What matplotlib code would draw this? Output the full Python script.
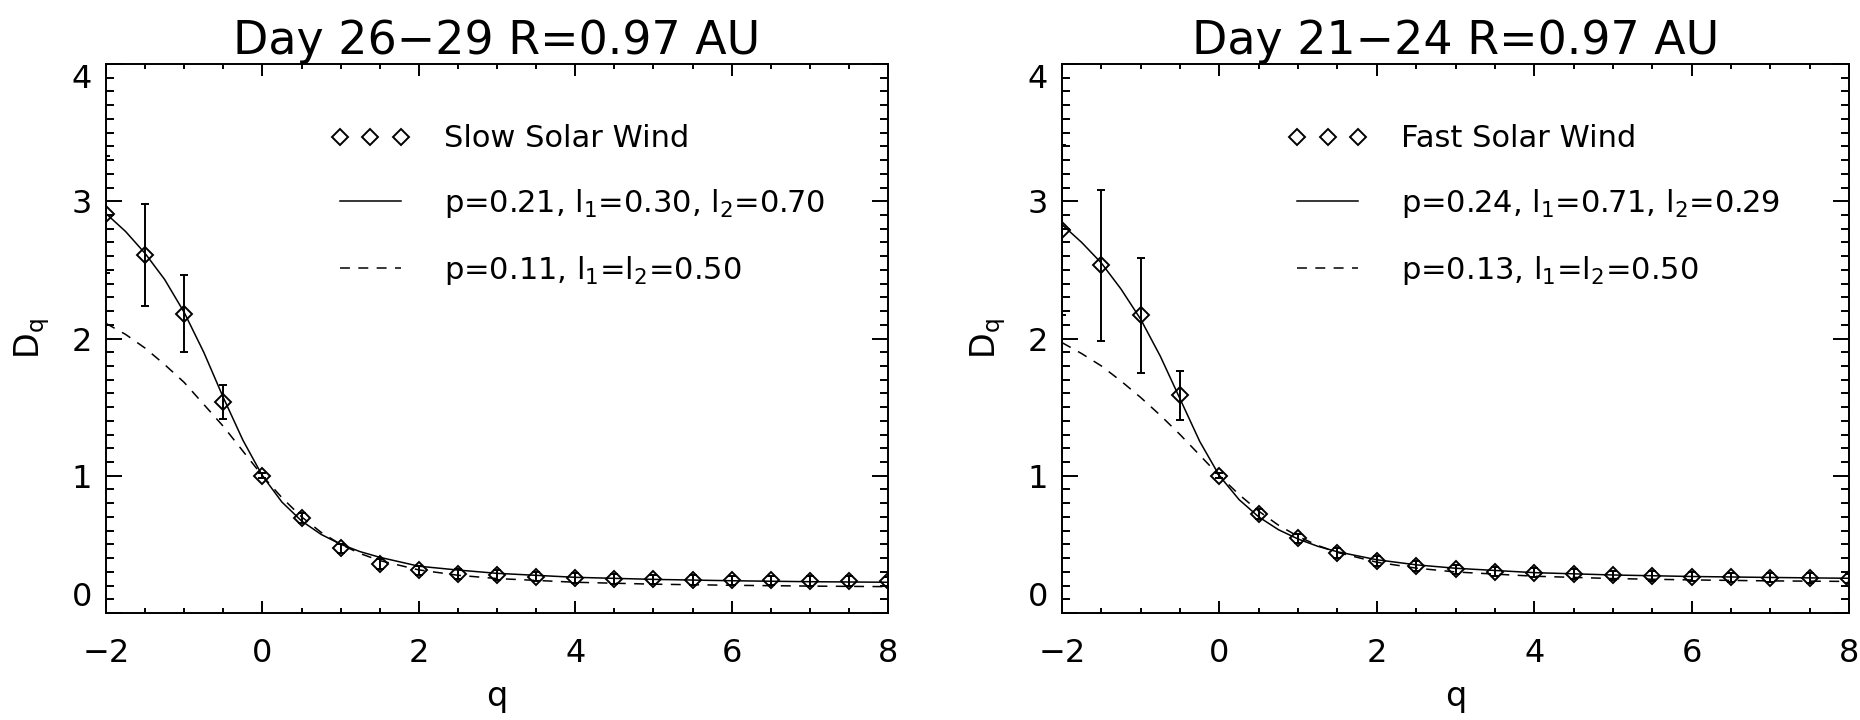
import matplotlib
matplotlib.use("Agg")
import matplotlib.pyplot as plt
from matplotlib.ticker import MultipleLocator
from matplotlib.lines import Line2D
from matplotlib.legend_handler import HandlerLine2D

plt.rcParams['font.family'] = ['DejaVu Sans']
plt.rcParams['mathtext.default'] = 'regular'

# measured generalized dimensions, q = -2 ... 8 step 0.5
q_obs = [-2, -1.5, -1, -0.5, 0, 0.5, 1, 1.5, 2, 2.5, 3, 3.5, 4, 4.5, 5, 5.5, 6, 6.5, 7, 7.5, 8]

slow_d = [2.905, 2.61, 2.18, 1.535, 1.0, 0.69, 0.47, 0.355, 0.31, 0.284, 0.277, 0.265, 0.253,
          0.248, 0.245, 0.240, 0.238, 0.237, 0.235, 0.233, 0.23]
slow_err = [0.425, 0.37, 0.28, 0.125, 0.02, 0.035, 0.035, 0.035, 0.035, 0.035, 0.035, 0.035, 0.035,
            0.035, 0.035, 0.035, 0.035, 0.035, 0.035, 0.035, 0.035]

fast_d = [2.79, 2.535, 2.168, 1.586, 1.0, 0.72, 0.544, 0.435, 0.379, 0.342, 0.318, 0.301, 0.294,
          0.282, 0.274, 0.270, 0.265, 0.260, 0.258, 0.255, 0.25]
fast_err = [0.62, 0.55, 0.42, 0.18, 0.02, 0.035, 0.035, 0.035, 0.035, 0.035, 0.035, 0.035, 0.035,
            0.035, 0.035, 0.035, 0.035, 0.035, 0.035, 0.035, 0.035]

# model curves
q_fit = [-2, -1.75, -1.5, -1.25, -1, -0.75, -0.5, -0.25, 0, 0.25, 0.5, 0.75, 1, 1.25, 1.5,
         2, 2.5, 3, 4, 5, 6, 7, 8]

slow_fit = [2.91, 2.78, 2.62, 2.43, 2.19, 1.90, 1.57, 1.26, 1.00, 0.808, 0.671, 0.573, 0.501,
            0.447, 0.406, 0.341, 0.313, 0.289, 0.260, 0.245, 0.235, 0.228, 0.224]
slow_binom = [2.11, 2.03, 1.93, 1.81, 1.68, 1.52, 1.36, 1.18, 1.00, 0.840, 0.701, 0.588, 0.500,
              0.433, 0.382, 0.314, 0.275, 0.251, 0.224, 0.210, 0.202, 0.196, 0.192]

fast_fit = [2.83, 2.70, 2.55, 2.36, 2.14, 1.87, 1.56, 1.25, 1.00, 0.826, 0.700, 0.607, 0.539,
            0.486, 0.446, 0.388, 0.351, 0.326, 0.294, 0.277, 0.266, 0.259, 0.253]
fast_binom = [1.97, 1.89, 1.80, 1.69, 1.57, 1.44, 1.30, 1.15, 1.00, 0.863, 0.742, 0.640, 0.558,
              0.492, 0.441, 0.370, 0.327, 0.299, 0.268, 0.251, 0.241, 0.234, 0.230]

dash = (0, (6.5, 5.5))


def panel(ax, title, d, err, fit, binom, name, fit_label, binom_label):
    ax.plot(q_fit, fit, color='k', lw=1.1)
    ax.plot(q_fit, binom, color='k', lw=1.1, ls=dash)
    ax.errorbar(q_obs, d, yerr=err, fmt='D', ms=8.5, mfc='none', mec='k', mew=1.4,
                ecolor='k', elinewidth=1.4, capsize=2.6, capthick=1.4)

    ax.set_xlim(-2, 8)
    ax.set_ylim(0, 4)
    ax.set_xticks([-2, 0, 2, 4, 6, 8])
    ax.set_yticks([0, 1, 2, 3, 4])
    ax.xaxis.set_minor_locator(MultipleLocator(0.5))
    ax.yaxis.set_minor_locator(MultipleLocator(0.1))
    ax.tick_params(which='both', direction='in', top=True, right=True, width=1.4,
                   labelsize=23)
    ax.tick_params(axis='x', which='major', length=8.4, pad=18)
    ax.tick_params(axis='x', which='minor', length=3.6)
    ax.tick_params(axis='y', which='major', length=11.5, pad=10)
    ax.tick_params(axis='y', which='minor', length=5.5)
    for s in ax.spines.values():
        s.set_linewidth(1.4)

    yt = ax.yaxis.get_major_ticks()
    yt[0].label1.set_va('bottom')
    yt[-1].label1.set_va('top')

    ax.set_title(title, fontsize=33, pad=7)
    ax.set_xlabel('q', fontsize=24, labelpad=8)
    ax.set_ylabel(r'D$_q$', fontsize=24, labelpad=14)

    h_data = Line2D([], [], ls='none', marker='D', ms=8.5, mfc='none', mec='k', mew=1.4)
    h_fit = Line2D([], [], color='k', lw=1.1)
    h_bin = Line2D([], [], color='k', lw=1.1, ls=dash)
    ax.legend([h_data, h_fit, h_bin], [name, fit_label, binom_label],
              loc='upper left', bbox_to_anchor=(0.299, 0.89), frameon=False,
              fontsize=22, handlelength=2.0, handletextpad=1.4, labelspacing=1.1,
              borderpad=0, borderaxespad=0,
              handler_map={h_data: HandlerLine2D(marker_pad=0, numpoints=3)})


fig = plt.figure(figsize=(18.6, 7.2), dpi=100)
ax1 = fig.add_axes([0.05699, 0.14861, 0.42043, 0.7625])
ax2 = fig.add_axes([0.57097, 0.14861, 0.42312, 0.7625])

panel(ax1, 'Day 26\u221229 R=0.97 AU', slow_d, slow_err, slow_fit, slow_binom,
      'Slow Solar Wind', r'p=0.21, l$_1$=0.30, l$_2$=0.70', r'p=0.11, l$_1$=l$_2$=0.50')
panel(ax2, 'Day 21\u221224 R=0.97 AU', fast_d, fast_err, fast_fit, fast_binom,
      'Fast Solar Wind', r'p=0.24, l$_1$=0.71, l$_2$=0.29', r'p=0.13, l$_1$=l$_2$=0.50')

fig.savefig('out.png', dpi=100)
